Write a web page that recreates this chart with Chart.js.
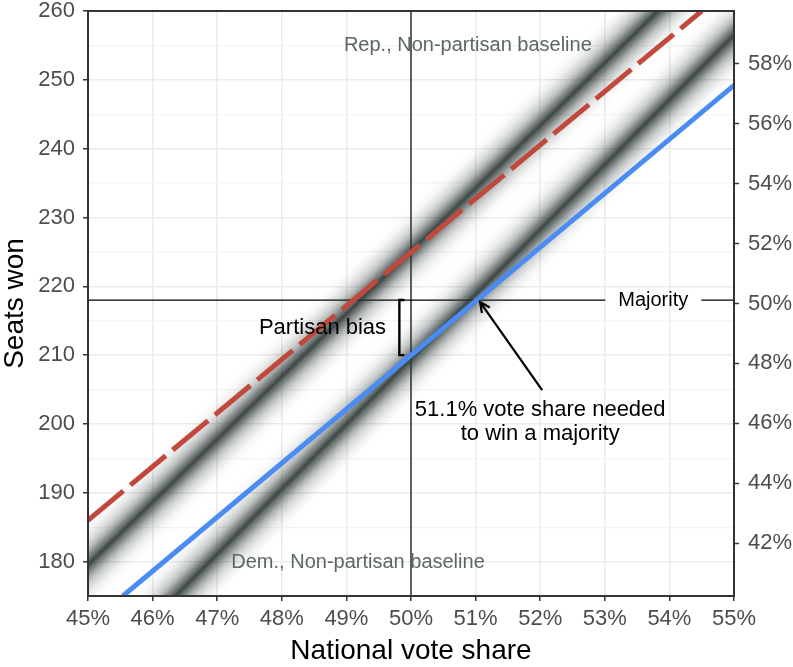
<!DOCTYPE html>
<html>
<head>
<meta charset="utf-8">
<script src="https://cdn.jsdelivr.net/npm/chart.js@4"></script>
<style>
  html, body { margin: 0; padding: 0; background: #fff; }
  #wrap { width: 793px; height: 667px; }
</style>
</head>
<body>
<div id="wrap"><canvas id="seatsChart" width="793" height="667"></canvas></div>
<script>
// --- données ---
const voteTicks = [45, 46, 47, 48, 49, 50, 51, 52, 53, 54, 55];
const seatTicks = [180, 190, 200, 210, 220, 230, 240, 250, 260];
const seatMinor = [185, 195, 205, 215, 225, 235, 245, 255];
const pctTicks = [42, 44, 46, 48, 50, 52, 54, 56, 58];
const totalSeats = 435;

// lignes de référence (non-partisan baseline)
const repBaseVote = [45, 54.5];
const repBaseSeats = [186, 260];
const demBaseVote = [45.54, 55];
const demBaseSeats = [175, 249.2];

// bandes des simulations (gris flou)
const repSimVote = [44.5, 54.1];
const repSimSeats = [175, 262.5];
const demSimVote = [46.14, 55.2];
const demSimSeats = [173, 258.4];

// annotations
const majoritySeats = 218;
const evenVote = 50;
const biasTop = 218;
const biasBottom = 210;
const biasVote = 49.82;
const arrowTip = { x: 51.07, y: 217.7 };
const arrowTail = { x: 52.03, y: 204.9 };

const FONT = '"Liberation Sans", Arial, Helvetica, sans-serif';
const TICK_GREY = '#4d4d4d';
const TEXT_GREY = '#5c6667';

function toPoints(xs, ys) {
    return xs.map((x, i) => ({ x: x, y: ys[i] }));
}

// Flou des bandes de simulation
const blurPlugin = {
    id: 'blurBands',
    beforeDatasetDraw(chart, args) {
        const ds = chart.data.datasets[args.index];
        if (ds.blur) {
            chart.ctx.save();
            chart.ctx.filter = 'blur(' + ds.blur + 'px)';
        }
    },
    afterDatasetDraw(chart, args) {
        if (chart.data.datasets[args.index].blur) chart.ctx.restore();
    }
};

// Lignes, textes et flèche
const annotPlugin = {
    id: 'annot',
    beforeDatasetsDraw(chart) {
        const { ctx, chartArea: a, scales } = chart;
        const x = scales.x, y = scales.y;
        ctx.save();
        ctx.strokeStyle = '#000';
        ctx.lineWidth = 1.2;
        // 50 %
        const x50 = x.getPixelForValue(evenVote);
        ctx.beginPath();
        ctx.moveTo(x50, a.top);
        ctx.lineTo(x50, a.bottom);
        ctx.stroke();
        // majorité (coupée autour du texte)
        ctx.font = '20px ' + FONT;
        const ym = y.getPixelForValue(majoritySeats);
        const xt = x.getPixelForValue(53.75);
        const half = ctx.measureText('Majority').width / 2 + 13;
        ctx.beginPath();
        ctx.moveTo(a.left, ym);
        ctx.lineTo(xt - half, ym);
        ctx.moveTo(xt + half, ym);
        ctx.lineTo(a.right, ym);
        ctx.stroke();
        ctx.restore();
    },
    afterDatasetsDraw(chart) {
        const { ctx, chartArea: a, scales } = chart;
        const x = scales.x, y = scales.y;
        ctx.save();
        ctx.textBaseline = 'middle';
        ctx.textAlign = 'center';

        ctx.font = '20px ' + FONT;
        ctx.fillStyle = TEXT_GREY;
        ctx.fillText('Rep., Non-partisan baseline', x.getPixelForValue(50.88), y.getPixelForValue(255));
        ctx.fillText('Dem., Non-partisan baseline', x.getPixelForValue(49.18), y.getPixelForValue(179.8));

        ctx.fillStyle = '#000';
        ctx.fillText('Majority', x.getPixelForValue(53.75), y.getPixelForValue(majoritySeats));
        ctx.font = '22px ' + FONT;
        ctx.fillText('Partisan bias', x.getPixelForValue(48.63), y.getPixelForValue(213.9));
        ctx.fillText('51.1% vote share needed', x.getPixelForValue(52.0), y.getPixelForValue(202.1));
        ctx.fillText('to win a majority', x.getPixelForValue(52.0), y.getPixelForValue(198.6));

        // crochet
        const bx = x.getPixelForValue(biasVote);
        const bt = y.getPixelForValue(biasTop);
        const bb = y.getPixelForValue(biasBottom);
        ctx.strokeStyle = '#000';
        ctx.lineWidth = 2.4;
        ctx.beginPath();
        ctx.moveTo(bx + 5, bt);
        ctx.lineTo(bx, bt);
        ctx.lineTo(bx, bb);
        ctx.lineTo(bx + 5, bb);
        ctx.stroke();

        // flèche
        const tx = x.getPixelForValue(arrowTip.x), ty = y.getPixelForValue(arrowTip.y);
        const sx = x.getPixelForValue(arrowTail.x), sy = y.getPixelForValue(arrowTail.y);
        const ang = Math.atan2(ty - sy, tx - sx);
        ctx.lineWidth = 2.2;
        ctx.beginPath();
        ctx.moveTo(sx, sy);
        ctx.lineTo(tx, ty);
        ctx.stroke();
        ctx.beginPath();
        ctx.moveTo(tx - 11 * Math.cos(ang - 0.45), ty - 11 * Math.sin(ang - 0.45));
        ctx.lineTo(tx, ty);
        ctx.lineTo(tx - 11 * Math.cos(ang + 0.45), ty - 11 * Math.sin(ang + 0.45));
        ctx.stroke();

        // cadre du panneau
        ctx.strokeStyle = '#333';
        ctx.lineWidth = 2;
        ctx.strokeRect(a.left, a.top, a.right - a.left, a.bottom - a.top);
        ctx.restore();
    }
};

// trois couches par bande : halo large, corps, trait central
function bandLayers(xs, ys) {
    const base = {
        data: toPoints(xs, ys),
        showLine: true,
        pointRadius: 0,
        clip: 0,
        order: 3
    };
    return [
        Object.assign({}, base, { borderColor: 'rgba(50, 60, 60, 0.4)', borderWidth: 32, blur: 8 }),
        Object.assign({}, base, { data: toPoints(xs, ys), borderColor: 'rgba(40, 50, 50, 0.75)', borderWidth: 12, blur: 4 }),
        Object.assign({}, base, { data: toPoints(xs, ys), borderColor: 'rgba(30, 38, 38, 0.6)', borderWidth: 3, blur: 1 })
    ];
}

function fixPad(s) {
    s.paddingTop = 0;
    s.paddingBottom = 0;
    s.paddingLeft = 0;
    s.paddingRight = 0;
}

new Chart(document.getElementById('seatsChart').getContext('2d'), {
    type: 'scatter',
    data: {
        datasets: [
            ...bandLayers(repSimVote, repSimSeats),
            ...bandLayers(demSimVote, demSimSeats),
            {
                label: 'Rep., Non-partisan baseline',
                data: toPoints(repBaseVote, repBaseSeats),
                showLine: true,
                borderColor: '#C0483D',
                borderWidth: 5,
                borderDash: [46, 9],
                pointRadius: 0,
                clip: 0,
                order: 1
            },
            {
                label: 'Dem., Non-partisan baseline',
                data: toPoints(demBaseVote, demBaseSeats),
                showLine: true,
                borderColor: '#4A8CF2',
                borderWidth: 5,
                pointRadius: 0,
                clip: 0,
                order: 1
            }
        ]
    },
    options: {
        responsive: false,
        animation: false,
        layout: { padding: { top: 11, left: 0, right: 0, bottom: 0 } },
        plugins: { legend: { display: false }, tooltip: { enabled: false } },
        scales: {
            x: {
                type: 'linear',
                min: 45,
                max: 55,
                afterBuildTicks: s => { s.ticks = voteTicks.map(v => ({ value: v })); },
                afterFit: s => { s.height = 71; fixPad(s); },
                ticks: {
                    callback: v => v + '%',
                    color: TICK_GREY,
                    font: { family: FONT, size: 22, lineHeight: 1 },
                    padding: 7,
                    maxRotation: 0
                },
                grid: { color: '#ebebeb', lineWidth: 1.5, tickLength: 5, tickColor: '#333', tickWidth: 1.5 },
                border: { display: true, color: '#333', width: 2 },
                title: {
                    display: true,
                    text: 'National vote share',
                    color: '#000',
                    font: { family: FONT, size: 28, lineHeight: 1.1 },
                    padding: { top: 4, bottom: 0 }
                }
            },
            y: {
                type: 'linear',
                position: 'left',
                min: 175,
                max: 260,
                afterBuildTicks: s => {
                    s.ticks = seatTicks.concat(seatMinor).sort((a, b) => a - b).map(v => ({ value: v }));
                },
                afterFit: s => { s.width = 88; fixPad(s); },
                ticks: {
                    callback: v => seatTicks.includes(v) ? String(v) : '',
                    color: TICK_GREY,
                    font: { family: FONT, size: 22, lineHeight: 1 },
                    padding: 8
                },
                grid: {
                    color: c => seatTicks.includes(c.tick && c.tick.value) ? '#ebebeb' : '#f4f4f4',
                    lineWidth: c => seatTicks.includes(c.tick && c.tick.value) ? 1.5 : 1.2,
                    tickLength: 5,
                    tickColor: c => seatTicks.includes(c.tick && c.tick.value) ? '#333' : 'rgba(0,0,0,0)',
                    tickWidth: 1.5
                },
                border: { display: true, color: '#333', width: 2 },
                title: {
                    display: true,
                    text: 'Seats won',
                    color: '#000',
                    font: { family: FONT, size: 28, lineHeight: 1.1 },
                    padding: { top: 0, bottom: 0 }
                }
            },
            y2: {
                type: 'linear',
                position: 'right',
                min: 175 / totalSeats * 100,
                max: 260 / totalSeats * 100,
                afterBuildTicks: s => { s.ticks = pctTicks.map(v => ({ value: v })); },
                afterFit: s => { s.width = 59; fixPad(s); },
                ticks: {
                    callback: v => v + '%',
                    color: TICK_GREY,
                    font: { family: FONT, size: 22, lineHeight: 1 },
                    padding: 9
                },
                grid: { drawOnChartArea: false, tickLength: 5, tickColor: '#333', tickWidth: 1.5 },
                border: { display: true, color: '#333', width: 2 }
            }
        }
    },
    plugins: [blurPlugin, annotPlugin]
});
</script>
</body>
</html>
